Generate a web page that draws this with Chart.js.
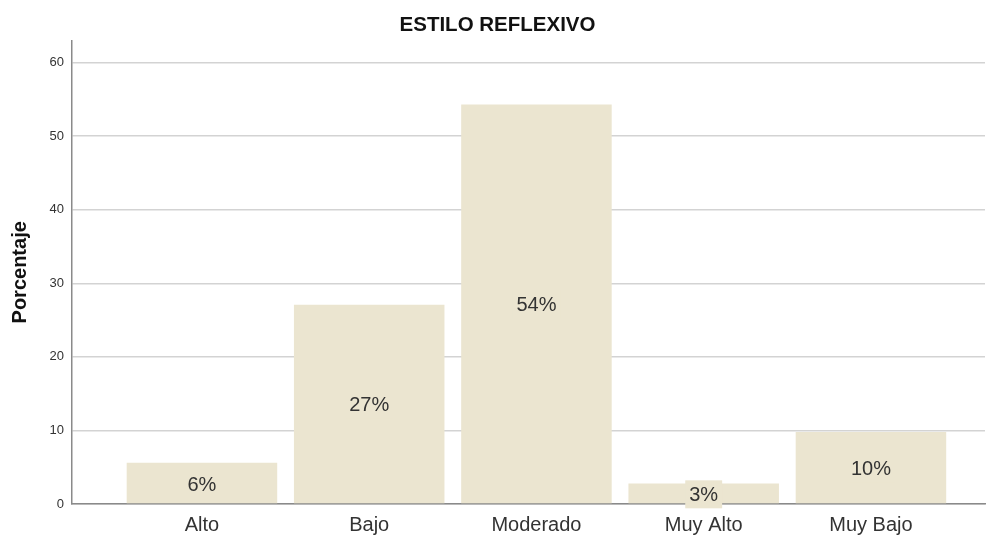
<!DOCTYPE html>
<html>
<head>
<meta charset="utf-8">
<title>ESTILO REFLEXIVO</title>
<script src="https://cdn.jsdelivr.net/npm/chart.js@4.4.1/dist/chart.umd.min.js"></script>
<style>
    html, body { margin: 0; padding: 0; background: #ffffff; }
    #wrap { width: 987px; height: 536px; }
</style>
</head>
<body>
<div id="wrap"><canvas id="chart" width="987" height="536"></canvas></div>
<script>
// Data
const categories = ['Alto', 'Bajo', 'Moderado', 'Muy Alto', 'Muy Bajo'];
const percentages = [5.6, 27.1, 54.3, 2.8, 9.8];
const barLabels = ['6%', '27%', '54%', '3%', '10%'];

const FONT = '"Liberation Sans", Arial, Helvetica, sans-serif';
const BAR_COLOR = '#ebe5d0';

// Draw percentage labels in the middle of each bar
const barLabelPlugin = {
    id: 'barLabels',
    afterDatasetsDraw(chart) {
        const ctx = chart.ctx;
        const meta = chart.getDatasetMeta(0);
        ctx.save();
        ctx.font = '20px ' + FONT;
        ctx.textAlign = 'center';
        ctx.textBaseline = 'middle';
        meta.data.forEach((bar, i) => {
            const text = barLabels[i];
            const cx = bar.x;
            const cy = (bar.y + bar.base) / 2 + 1;
            const w = ctx.measureText(text).width + 8;
            const h = 28;
            ctx.fillStyle = BAR_COLOR;
            ctx.fillRect(cx - w / 2, cy - h / 2, w, h);
            ctx.fillStyle = '#333333';
            ctx.fillText(text, cx, cy + 1);
        });
        ctx.restore();
    }
};

const ctx = document.getElementById('chart');

new Chart(ctx.getContext('2d'), {
    type: 'bar',
    data: {
        datasets: [{
            data: percentages.map((v, i) => ({ x: i, y: v })),
            backgroundColor: BAR_COLOR,
            borderWidth: 0,
            categoryPercentage: 1,
            barPercentage: 0.9
        }]
    },
    options: {
        responsive: false,
        animation: false,
        devicePixelRatio: 1,
        layout: {
            padding: { left: 10, right: 2, top: 0, bottom: 0 }
        },
        plugins: {
            legend: { display: false },
            tooltip: { enabled: false },
            title: {
                display: true,
                text: 'ESTILO REFLEXIVO',
                color: '#111111',
                font: { family: FONT, size: 20.5, weight: 'bold', lineHeight: 1.2 },
                padding: { top: 13, bottom: 3 }
            }
        },
        scales: {
            x: {
                type: 'linear',
                min: -0.777,
                max: 4.682,
                offset: false,
                grid: { display: false, drawTicks: false },
                border: { display: true, color: '#8a8a8a', width: 1.5 },
                afterBuildTicks: scale => {
                    scale.ticks = categories.map((c, i) => ({ value: i }));
                },
                afterFit: scale => { scale.height = 32; },
                ticks: {
                    autoSkip: false,
                    maxRotation: 0,
                    padding: 9,
                    color: '#333333',
                    font: { family: FONT, size: 20 },
                    callback: v => categories[v]
                }
            },
            y: {
                min: 0,
                max: 63,
                grid: { color: '#d3d3d3', lineWidth: 1.5, drawTicks: false },
                border: { display: true, color: '#8a8a8a', width: 1.5 },
                afterFit: scale => { scale.width = 62; },
                ticks: {
                    stepSize: 10,
                    includeBounds: false,
                    padding: 8,
                    color: '#333333',
                    font: { family: FONT, size: 13 }
                },
                title: {
                    display: true,
                    text: 'Porcentaje',
                    color: '#111111',
                    font: { family: FONT, size: 20, weight: 'bold', lineHeight: 1 },
                    padding: { top: 0, bottom: 0 }
                }
            }
        }
    },
    plugins: [barLabelPlugin]
});
</script>
</body>
</html>
